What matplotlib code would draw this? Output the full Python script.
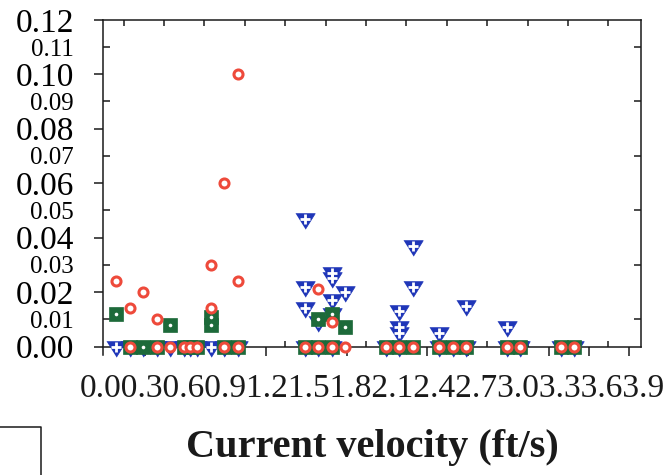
import numpy as np
import matplotlib
matplotlib.use("Agg")
import matplotlib.pyplot as plt
from matplotlib.lines import Line2D

plt.rcParams['font.family'] = ['Liberation Serif', 'DejaVu Serif']

# Red rings
circ_x = [0.0, 0.1, 0.1, 0.2, 0.3, 0.3, 0.4, 0.5, 0.55, 0.6, 0.7, 0.7, 0.8, 0.8, 0.9, 0.9, 0.9,
          1.4, 1.5, 1.5, 1.6, 1.6, 1.7, 2.0, 2.1, 2.2, 2.4, 2.5, 2.6, 2.9, 3.0, 3.3, 3.4]
circ_y = [0.024, 0.014, 0.0, 0.020, 0.010, 0.0, 0.0, 0.0, 0.0, 0.0, 0.030, 0.014, 0.060, 0.0, 0.100, 0.024, 0.0,
          0.0, 0.021, 0.0, 0.009, 0.0, 0.0, 0.0, 0.0, 0.0, 0.0, 0.0, 0.0, 0.0, 0.0, 0.0, 0.0]

# Green squares
sq_x = [0.0, 0.1, 0.2, 0.3, 0.4, 0.5, 0.55, 0.6, 0.7, 0.7, 0.8, 0.9,
        1.4, 1.5, 1.5, 1.6, 1.6, 1.7, 2.0, 2.1, 2.2, 2.4, 2.5, 2.6, 2.9, 3.0, 3.3, 3.4]
sq_y = [0.012, 0.0, 0.0, 0.0, 0.008, 0.0, 0.0, 0.0, 0.011, 0.008, 0.0, 0.0,
        0.0, 0.010, 0.0, 0.012, 0.0, 0.007, 0.0, 0.0, 0.0, 0.0, 0.0, 0.0, 0.0, 0.0, 0.0, 0.0]

# Blue triangles
tri_x = [0.0, 0.1, 0.2, 0.3, 0.4, 0.5, 0.55, 0.6, 0.7, 0.8, 0.9,
         1.4, 1.4, 1.4, 1.4, 1.5, 1.5, 1.6, 1.6, 1.6, 1.6, 1.6, 1.7,
         2.0, 2.1, 2.1, 2.1, 2.1, 2.2, 2.2, 2.4, 2.4, 2.5, 2.6, 2.6, 2.9, 2.9, 3.0, 3.3, 3.4]
tri_y = [0.0, 0.0, 0.0, 0.0, 0.0, 0.0, 0.0, 0.0, 0.0, 0.0, 0.0,
         0.047, 0.022, 0.014, 0.0, 0.009, 0.0, 0.027, 0.025, 0.017, 0.012, 0.0, 0.020,
         0.0, 0.013, 0.007, 0.005, 0.0, 0.037, 0.022, 0.005, 0.0, 0.0, 0.015, 0.0, 0.007, 0.0, 0.0, 0.0, 0.0]

x_tick_labels = ['0.0', '0.3', '0.6', '0.9', '1.2', '1.5', '1.8', '2.1', '2.4', '2.7', '3.0', '3.3', '3.6', '3.9']

red = '#ee4a3b'
green = '#1d6a3a'
blue = '#1f36b8'
ink = '#1a1a1a'

fig = plt.figure(figsize=(6.67, 4.75), dpi=100)
ax = fig.add_axes([0.1543, 0.2705, 0.8073, 0.6878])
ax.set_xlim(-0.1, 3.9)
ax.set_ylim(0, 0.12)

tri_marker = [(-1, 0.6), (1, 0.6), (0, -1)]
ax.plot(tri_x, tri_y, ls='none', marker=tri_marker, ms=14, mfc=blue, mec=blue, mew=0.5,
        clip_on=False, zorder=3)
ax.plot(tri_x, tri_y, ls='none', marker='+', ms=6.5, mec='white', mew=2.0,
        clip_on=False, zorder=3.1)
ax.plot(sq_x, sq_y, ls='none', marker='s', ms=10.5, mfc=green, mec=green, mew=0.5,
        clip_on=False, zorder=4)
ax.plot(sq_x, sq_y, ls='none', marker='o', ms=2.6, mfc='white', mew=0,
        clip_on=False, zorder=4.1)
ax.plot(circ_x, circ_y, ls='none', marker='o', ms=6.5, mfc='white', mec=red, mew=2.2,
        clip_on=False, zorder=5)

for s in ax.spines.values():
    s.set_linewidth(1.1)
    s.set_color(ink)
# left axis line runs a little past the bottom axis
ax.spines['left'].set_bounds(-0.003, 0.12)

# y axis: even values labelled large with outward ticks, odd values smaller with inward ticks
ax.set_yticks(np.arange(0, 0.121, 0.02))
ax.set_yticks(np.arange(0.01, 0.12, 0.02), minor=True)
ax.yaxis.set_major_formatter(matplotlib.ticker.FormatStrFormatter('%.2f'))
ax.yaxis.set_minor_formatter(matplotlib.ticker.FormatStrFormatter('%.2f'))
ax.tick_params(axis='y', which='major', direction='out', length=6.5, width=1.1, color=ink,
               labelsize=24, pad=14, left=True, right=False)
ax.tick_params(axis='y', which='minor', direction='in', length=5, width=1.1, color=ink,
               labelsize=18, pad=21, left=True, right=True)

# x axis ticks, no labels on the axis itself
ax.set_xticks(0.21 + 0.3 * np.arange(13))
ax.set_xticks(0.054 + 0.3 * np.arange(13), minor=True)
ax.tick_params(axis='x', which='major', direction='out', length=6.5, width=1.1, color=ink,
               labelbottom=False, top=False)
ax.tick_params(axis='x', which='minor', direction='in', length=4.5, width=1.1, color=ink,
               bottom=True, top=True, labelbottom=False)

fig.text(0.5577, 0.164, ''.join(x_tick_labels), fontsize=24, ha='center', va='baseline',
         color=ink)
fig.text(0.5577, 0.038, 'Current velocity (ft/s)', fontsize=29, fontweight='bold',
         ha='center', va='baseline', color=ink)

# partial frame in the lower left corner
fig.add_artist(Line2D([0, 41 / 667, 41 / 667], [48 / 475, 48 / 475, 0],
                      transform=fig.transFigure, color=ink, lw=1.1))

fig.savefig('out.png', dpi=100)
